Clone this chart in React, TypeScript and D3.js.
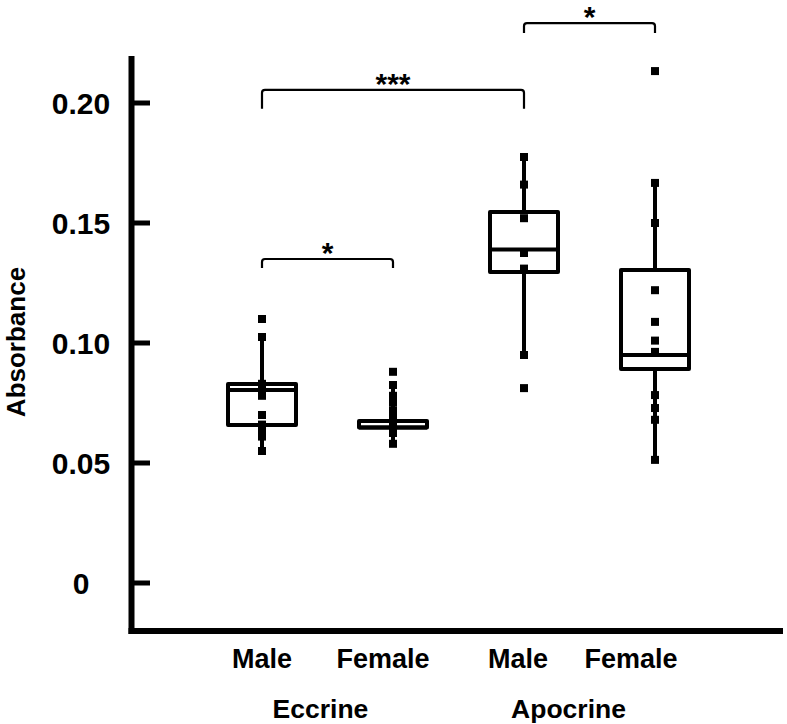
import React from "react";
import * as d3 from "d3";

const categories = ["Eccrine Male", "Eccrine Female", "Apocrine Male", "Apocrine Female"];
const catLabels = ["Male", "Female", "Male", "Female"];
const groups = ["Eccrine", "Apocrine"];
const yTicks = [0, 0.05, 0.1, 0.15, 0.2];
const yTickLabels = ["0", "0.05", "0.10", "0.15", "0.20"];

const q1 = [0.0658, 0.0648, 0.1296, 0.0892];
const median = [0.0804, 0.0648, 0.139, 0.095];
const q3 = [0.0829, 0.0675, 0.1546, 0.1304];
const whiskerLow = [0.0547, 0.058, 0.095, 0.0513];
const whiskerHigh = [0.1025, 0.0825, 0.1775, 0.1667];

const pointsEM = [0.11, 0.1025, 0.083, 0.08, 0.078, 0.07, 0.066, 0.063, 0.061, 0.055];
const pointsEF = [0.088, 0.0825, 0.078, 0.0754, 0.072, 0.069, 0.067, 0.065, 0.0625, 0.058];
const pointsAM = [0.1775, 0.166, 0.152, 0.1375, 0.131, 0.095, 0.0812];
const pointsAF = [0.2133, 0.1667, 0.15, 0.122, 0.1088, 0.101, 0.0963, 0.0783, 0.0729, 0.068, 0.0513];
const points = [pointsEM, pointsEF, pointsAM, pointsAF];

const comparisons = [
  { from: 0, to: 1, label: "*" },
  { from: 0, to: 2, label: "***" },
  { from: 2, to: 3, label: "*" },
];
const comparisonLevels = [0.135, 0.2055, 0.2333];

export default function App() {
  const W = 787;
  const H = 724;
  const y = d3.scaleLinear().domain([0, 0.2]).range([583, 103]);
  const x = d3.scalePoint<string>().domain(categories).range([262, 655]);
  const boxHalf = 34;
  const font = "'Liberation Sans', Arial, sans-serif";
  const labelShift = [0, -10, -6, -24];
  const groupShift = [-7, -21];
  const drop = [9, 19, 10];

  return (
    <svg width={W} height={H} style={{ position: "absolute", left: 0, top: 0 }}>
      <rect width={W} height={H} fill="#fff" />
      {/* axes */}
      <line x1={131.5} x2={131.5} y1={56} y2={634} stroke="#000" strokeWidth={6} />
      <line x1={128.5} x2={783} y1={631} y2={631} stroke="#000" strokeWidth={6} />
      {yTicks.map((t, i) => (
        <g key={i}>
          <line x1={131} x2={150} y1={y(t)} y2={y(t)} stroke="#000" strokeWidth={5} />
          <text x={81} y={y(t) + 10.5} textAnchor="middle" fontFamily={font} fontWeight="bold" fontSize={30} fill="#000">
            {yTickLabels[i]}
          </text>
        </g>
      ))}
      <text
        transform={`translate(25,342) rotate(-90)`}
        textAnchor="middle"
        fontFamily={font}
        fontWeight="bold"
        fontSize={26}
        fill="#000"
      >
        Absorbance
      </text>
      {/* boxes */}
      {categories.map((c, i) => {
        const cx = x(c)!;
        return (
          <g key={c}>
            <line x1={cx} x2={cx} y1={y(whiskerHigh[i])} y2={y(q3[i])} stroke="#000" strokeWidth={4} />
            <line x1={cx} x2={cx} y1={y(q1[i])} y2={y(whiskerLow[i])} stroke="#000" strokeWidth={4} />
            <rect
              x={cx - boxHalf}
              y={y(q3[i])}
              width={boxHalf * 2}
              height={y(q1[i]) - y(q3[i])}
              fill="none"
              stroke="#000"
              strokeWidth={4}
              strokeLinejoin="round"
            />
            <line x1={cx - boxHalf} x2={cx + boxHalf} y1={y(median[i])} y2={y(median[i])} stroke="#000" strokeWidth={4} />
            {points[i].map((p, j) => (
              <rect key={j} x={cx - 4} y={y(p) - 4} width={8} height={8} fill="#000" />
            ))}
          </g>
        );
      })}
      {/* significance brackets */}
      {comparisons.map((cmp, i) => {
        const x1 = x(categories[cmp.from])!;
        const x2 = x(categories[cmp.to])!;
        const yy = y(comparisonLevels[i]);
        const r = 3;
        const d = `M${x1},${yy + drop[i]} L${x1},${yy + r} Q${x1},${yy} ${x1 + r},${yy} L${x2 - r},${yy} Q${x2},${yy} ${x2},${yy + r} L${x2},${yy + drop[i]}`;
        return (
          <g key={i}>
            <path d={d} fill="none" stroke="#000" strokeWidth={2.2} />
            <text x={(x1 + x2) / 2} y={yy + 4} textAnchor="middle" fontFamily={font} fontWeight="bold" fontSize={30} fill="#000">
              {cmp.label}
            </text>
          </g>
        );
      })}
      {/* category labels */}
      {categories.map((c, i) => (
        <text key={c} x={x(c)! + labelShift[i]} y={668} textAnchor="middle" fontFamily={font} fontWeight="bold" fontSize={27} fill="#000">
          {catLabels[i]}
        </text>
      ))}
      {groups.map((g, gi) => {
        const cx = (x(categories[gi * 2])! + x(categories[gi * 2 + 1])!) / 2 + groupShift[gi];
        return (
          <text key={g} x={cx} y={718} textAnchor="middle" fontFamily={font} fontWeight="bold" fontSize={26.5} fill="#000">
            {g}
          </text>
        );
      })}
    </svg>
  );
}
